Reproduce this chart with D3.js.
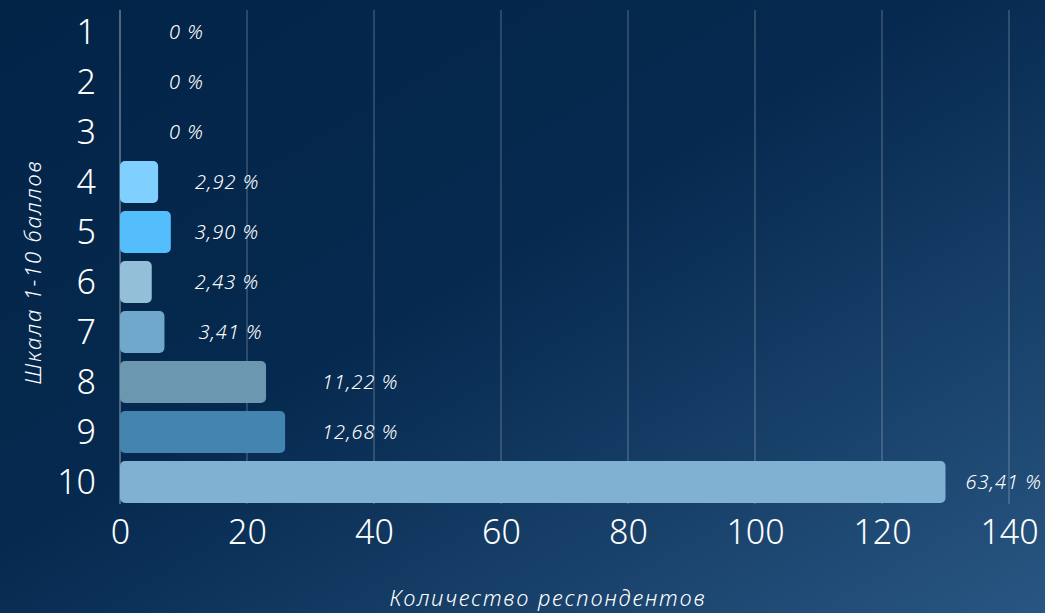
<!DOCTYPE html>
<html>
<head>
<meta charset="utf-8">
<script src="https://cdn.jsdelivr.net/npm/d3@7"></script>
<style>
  html, body { margin: 0; padding: 0; background: #03264a; }
  svg { display: block; font-family: "Noto Sans", "DejaVu Sans", sans-serif; }
</style>
</head>
<body>
<svg id="chart" width="1045" height="613"></svg>
<script>
// data
const scores = ['1', '2', '3', '4', '5', '6', '7', '8', '9', '10']
const counts = [0, 0, 0, 6, 8, 5, 7, 23, 26, 130]
const percents = ['0 %', '0 %', '0 %', '2,92 %', '3,90 %', '2,43 %', '3,41 %', '11,22 %', '12,68 %', '63,41 %']
const barColors = ['#7fd0ff', '#7fd0ff', '#7fd0ff', '#7fd0ff', '#54befc', '#93bfd9', '#6fa8cb', '#6b98b0', '#4385ae', '#80b0d2']
const xTicks = [0, 20, 40, 60, 80, 100, 120, 140]

// label offset from bar end (px)
const labelDx = [49, 49, 49, 37, 24, 43, 34, 56, 37, 20]

const width = 1045, height = 613
const svg = d3.select('#chart')

// background
const defs = svg.append('defs')
const grad = defs.append('linearGradient')
  .attr('id', 'bg')
  .attr('x1', '0%').attr('y1', '0%')
  .attr('x2', '100%').attr('y2', '100%')
grad.append('stop').attr('offset', '0%').attr('stop-color', '#022447')
grad.append('stop').attr('offset', '45%').attr('stop-color', '#06294f')
grad.append('stop').attr('offset', '100%').attr('stop-color', '#285682')
svg.append('rect').attr('width', width).attr('height', height).attr('fill', 'url(#bg)')

const x = d3.scaleLinear().domain([0, 140]).range([120, 1009])
const y = d3.scaleBand().domain(scores).range([7, 507]).paddingInner(0.16).paddingOuter(0.08)

// grid lines
svg.append('g')
  .selectAll('line')
  .data(xTicks)
  .enter()
  .append('line')
  .attr('x1', d => x(d)).attr('x2', d => x(d))
  .attr('y1', 10).attr('y2', 504)
  .style('stroke', d => d === 0 ? 'rgba(255,255,255,0.6)' : 'rgba(255,255,255,0.32)')
  .style('stroke-width', 1)

// bars
const bars = svg.append('g')
scores.forEach((s, i) => {
  if (counts[i] <= 0) return
  bars.append('rect')
    .attr('x', x(0))
    .attr('y', y(s))
    .attr('width', x(counts[i]) - x(0))
    .attr('height', y.bandwidth())
    .attr('rx', 5).attr('ry', 5)
    .style('fill', barColors[i])
})

// value labels
svg.append('g')
  .selectAll('text')
  .data(scores)
  .enter()
  .append('text')
  .attr('x', (d, i) => x(counts[i]) + labelDx[i])
  .attr('y', d => y(d) + y.bandwidth() / 2)
  .attr('dy', '0.35em')
  .style('fill', '#ffffff')
  .style('font-size', '20px')
  .style('font-style', 'italic')
  .style('font-weight', 300)
  .style('letter-spacing', '1px')
  .text((d, i) => percents[i])

// y tick labels
const yAxis = d3.axisLeft(y).tickSize(0).tickPadding(0)
svg.append('g')
  .attr('transform', 'translate(96,0)')
  .call(yAxis)
  .call(g => g.select('.domain').remove())
  .selectAll('text')
  .attr('dy', '0.36em')
  .style('fill', '#ffffff')
  .style('font-size', '34px')
  .style('font-weight', 300)
  .style('font-family', '"Noto Sans", sans-serif')

// x tick labels
const xAxis = d3.axisBottom(x).tickValues(xTicks).tickSize(0).tickPadding(0)
svg.append('g')
  .attr('transform', 'translate(0,520)')
  .call(xAxis)
  .call(g => g.select('.domain').remove())
  .selectAll('text')
  .attr('dy', '0.71em')
  .style('fill', '#ffffff')
  .style('font-size', '34px')
  .style('font-weight', 300)
  .style('font-family', '"Noto Sans", sans-serif')

// axis titles
svg.append('text')
  .attr('transform', 'translate(41,272) rotate(-90)')
  .attr('text-anchor', 'middle')
  .style('fill', '#ffffff')
  .style('font-size', '22px')
  .style('font-style', 'italic')
  .style('font-weight', 300)
  .style('letter-spacing', '1.8px')
  .text('Шкала 1-10 баллов')

svg.append('text')
  .attr('x', 548)
  .attr('y', 606)
  .attr('text-anchor', 'middle')
  .style('fill', '#ffffff')
  .style('font-size', '22px')
  .style('font-style', 'italic')
  .style('font-weight', 300)
  .style('letter-spacing', '1.8px')
  .text('Количество респондентов')
</script>
</body>
</html>
